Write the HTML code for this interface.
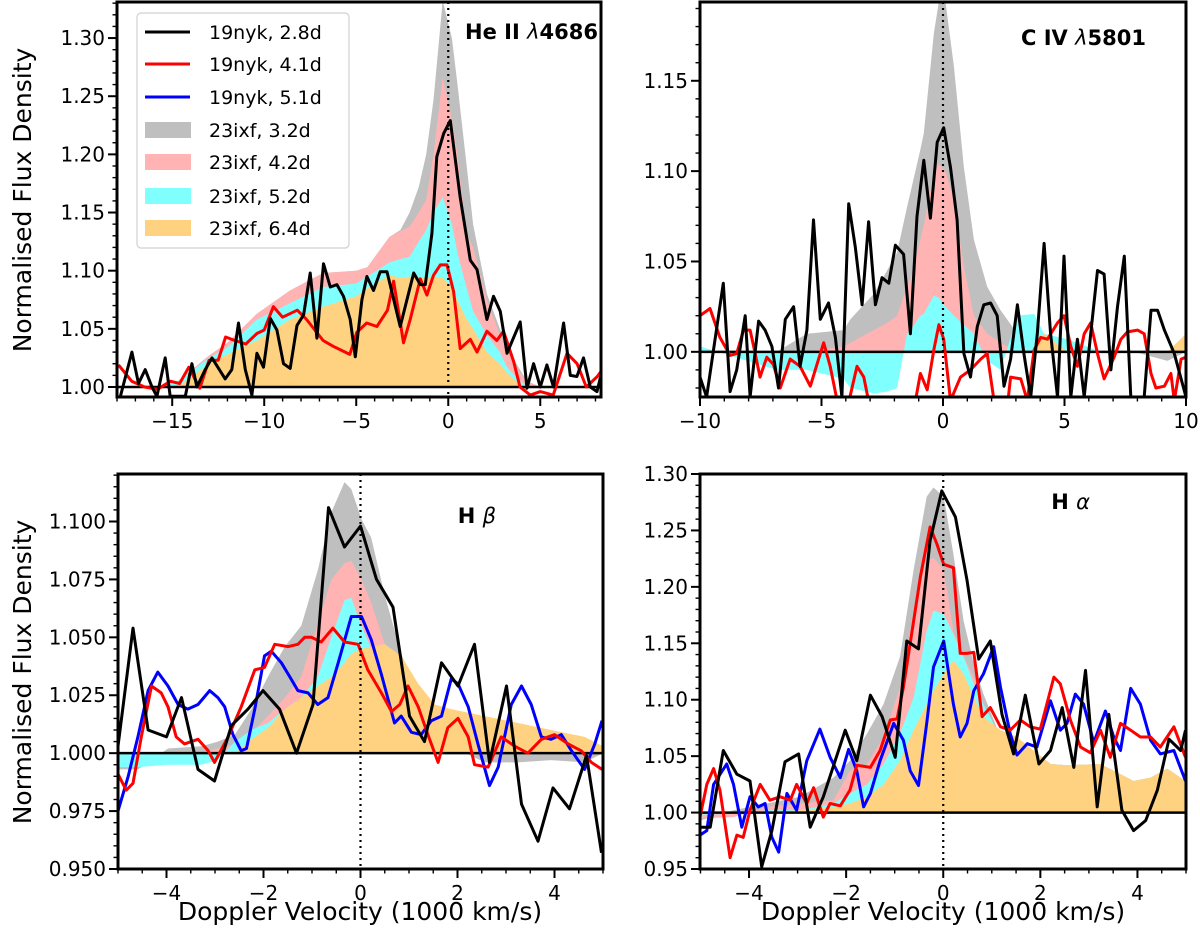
<!DOCTYPE html>
<html><head><meta charset="utf-8"><style>
body{margin:0;background:#fff}
svg{display:block;font-family:"DejaVu Sans","Liberation Sans",sans-serif}
</style></head><body>
<svg id="fig" width="1200" height="944" viewBox="0 0 1200 944" xmlns="http://www.w3.org/2000/svg"></svg>
<script>
// ===== Panel A: He II 4686 =====
const heV=[-18,-16,-14.7,-13,-12,-10.4,-8.6,-6.8,-5,-4.4,-3.2,-2.6,-2.1,-1.6,-1.2,-0.8,-0.3,0.2,0.5,1.0,1.35,2.1,2.8,3.2,3.6,4.0,4.3,5,8.3];
const heGray=[1,1,1.005,1.027,1.038,1.063,1.083,1.098,1.1,1.103,1.129,1.135,1.15,1.172,1.2,1.247,1.332,1.3,1.26,1.19,1.14,1.08,1.05,1.035,1.023,1.012,1.005,1,1];
const hePink=[1,1,1.005,1.027,1.038,1.063,1.083,1.098,1.1,1.103,1.129,1.134,1.138,1.15,1.161,1.2,1.266,1.23,1.2,1.132,1.12,1.075,1.045,1.032,1.02,1.01,1.005,1,1];
const heCyan=[1,1,1.005,1.025,1.034,1.058,1.072,1.086,1.089,1.095,1.107,1.11,1.112,1.125,1.135,1.15,1.163,1.14,1.115,1.085,1.065,1.045,1.03,1.017,1.01,1.004,1.0,1,1];
const heOrange=[1,1,1.0,1.02,1.028,1.04,1.058,1.069,1.078,1.085,1.096,1.094,1.095,1.094,1.094,1.095,1.094,1.085,1.075,1.058,1.05,1.03,1.02,1.012,1.006,1.0,1.0,1,1];
const heBlackV=[-17.83,-17.19,-16.83,-16.47,-16.10,-15.83,-15.38,-15.11,-14.29,-13.93,-13.66,-13.21,-12.84,-12.12,-11.76,-11.40,-11.03,-10.67,-10.40,-10.04,-9.67,-9.31,-8.95,-8.59,-8.22,-7.86,-7.50,-7.14,-6.78,-6.41,-6.05,-5.69,-5.33,-5.05,-4.69,-4.42,-4.06,-3.70,-3.33,-2.61,-1.88,-1.52,-1.25,-0.89,-0.62,-0.25,0.11,0.65,1.20,1.56,2.10,2.46,2.83,3.19,3.91,4.28,4.64,5.00,5.36,5.72,6.27,6.63,6.99,7.35,7.72,8.08,8.37];
const heBlackF=[0.991,1.030,1.003,1.015,1.000,0.992,1.025,0.992,0.992,1.020,1.000,1.015,1.025,1.007,1.015,1.055,1.015,0.993,1.029,1.017,1.059,1.049,1.020,1.016,1.053,1.062,1.098,1.042,1.106,1.086,1.088,1.078,1.058,1.026,1.075,1.095,1.083,1.099,1.099,1.052,1.098,1.088,1.088,1.132,1.198,1.218,1.229,1.163,1.109,1.101,1.058,1.078,1.065,1.029,1.056,0.999,1.020,1.000,1.019,1.000,1.055,1.010,1.009,1.025,1.000,0.996,1.015];
const heRedV=[-17.92,-17.2,-16.5,-15.8,-15.1,-14.6,-14.1,-13.5,-13.0,-12.5,-12.1,-11.6,-11.0,-10.4,-10.0,-9.5,-9.0,-8.2,-7.7,-7.1,-6.8,-6.25,-5.35,-4.97,-4.43,-3.88,-3.3,-2.97,-2.6,-2.43,-2.07,-1.52,-1.16,-0.8,-0.43,-0.07,0.29,0.65,1.2,1.56,2.1,2.64,3.0,3.55,3.9,4.46,5.0,5.7,6.45,7.0,7.5,8.1,8.37];
const heRedF=[1.019,1.005,1.0,0.998,1.005,1.003,1.017,0.999,1.023,1.023,1.043,1.040,1.037,1.046,1.049,1.069,1.060,1.066,1.058,1.046,1.040,1.035,1.028,1.047,1.055,1.052,1.066,1.091,1.055,1.038,1.058,1.093,1.079,1.096,1.105,1.105,1.082,1.033,1.041,1.030,1.048,1.040,1.048,1.022,1.0,0.993,0.996,0.993,1.029,1.020,1.0,1.009,1.015];

// ===== Panel B: C IV 5801 =====
const civV=[-10,-6.84,-5.6,-4.09,-3.81,-2.85,-2.30,-1.89,-1.48,-1.34,-0.93,-0.79,-0.38,-0.17,0.10,0.45,0.86,1.27,1.82,2.37,3.06,3.75,4.16,5.12,6.49,7.87,9.24,10];
const civGray=[1,1,1.010,1.012,1.018,1.032,1.045,1.055,1.08,1.088,1.112,1.121,1.176,1.194,1.194,1.158,1.102,1.062,1.036,1.023,1.010,1.001,1,1,1,1,0.995,1];
const civPink=[1,1,1,1.003,1.005,1.012,1.016,1.02,1.036,1.04,1.062,1.07,1.099,1.104,1.10,1.084,1.047,1.020,1.010,1.005,1,1,1,1,1,1,1,1];
const civCyan=[1.003,0.99,0.99,0.985,0.98,0.977,0.978,0.98,1.01,1.012,1.02,1.021,1.031,1.03,1.025,1.02,1.015,1.01,0.995,0.99,1.02,1.021,1.01,1.007,1,1,1,1];
const civOrange=[1,1,1,1,1,1,1,1,1,1,1,1,1,1,1,1,1,1,1,1,1,1,1.01,1,1,1,1,1.01];
const civBlackV=[-10,-9.73,-9.04,-8.76,-8.49,-8.14,-7.94,-7.59,-7.32,-7.04,-6.77,-6.49,-6.15,-5.88,-5.60,-5.33,-5.05,-4.71,-4.43,-4.16,-3.88,-3.61,-3.33,-3.06,-2.78,-2.51,-2.23,-1.96,-1.62,-1.34,-1.07,-0.79,-0.52,-0.24,0.03,0.31,0.58,0.86,1.13,1.41,1.68,1.96,2.23,2.51,2.78,3.06,3.33,3.61,3.88,4.16,4.43,4.71,4.98,5.26,5.53,5.81,6.08,6.36,6.63,6.91,7.18,7.46,7.73,8.28,8.56,8.83,9.11,9.52,10.0];
const civBlackF=[0.986,0.975,1.038,0.978,0.990,1.020,0.975,1.017,1.012,1.003,0.980,1.018,1.025,0.992,1.012,1.073,1.018,1.027,1.008,0.975,1.082,1.058,1.026,1.072,1.026,1.041,1.038,1.059,1.054,1.010,1.075,1.106,1.074,1.116,1.124,1.102,1.073,0.999,0.986,1.014,1.026,1.027,1.020,0.981,0.996,1.026,0.999,0.975,1.010,1.060,1.010,0.975,1.053,0.975,1.007,0.975,1.010,1.045,1.043,0.990,1.025,1.053,0.975,0.975,1.023,1.023,1.012,0.999,0.975];
const civRedV=[-10,-9.59,-9.18,-8.76,-8.49,-8.21,-7.94,-7.73,-7.53,-7.25,-6.98,-6.70,-6.29,-5.88,-5.46,-5.12,-4.91,-4.64,-4.36,-3.95,-3.54,-3.26,-2.99,-1.20,-0.93,-0.65,-0.38,-0.17,0.03,0.31,0.72,1.13,1.55,1.82,2.10,2.65,2.78,3.20,3.47,3.75,4.02,4.30,4.71,4.98,5.26,5.53,5.81,6.08,6.36,6.63,7.04,7.32,7.59,8.01,8.28,8.56,8.76,9.11,9.38,9.52,9.80,10.0];
const civRedF=[1.020,1.024,1.008,0.998,0.999,1.012,1.012,0.999,0.986,0.997,0.993,0.980,0.996,0.992,0.981,0.996,1.005,0.992,0.973,0.968,0.992,0.986,0.968,0.968,0.988,0.979,1.001,1.015,1.007,0.973,0.986,0.990,0.996,0.999,0.973,0.970,0.986,0.985,0.973,1.001,1.008,1.007,1.016,1.020,1.003,0.992,1.010,1.016,0.999,0.985,0.997,1.007,1.011,1.012,1.010,0.988,0.980,0.981,0.988,0.973,0.996,0.997];

// ===== Panel C: H beta =====
const hbV=[-5.0,-4.59,-3.97,-3.28,-2.94,-2.59,-2.25,-1.91,-1.56,-1.22,-0.88,-0.60,-0.33,-0.19,0.02,0.22,0.50,0.84,1.19,1.53,1.87,2.56,3.25,3.93,4.62,5.0];
const hbGray=[0.993,0.993,1.002,1.003,1.005,1.008,1.019,1.033,1.046,1.055,1.079,1.104,1.117,1.114,1.101,1.093,1.068,1.043,1.024,1.014,1.003,0.996,0.996,0.997,0.996,1.0];
const hbPink=[1,1,1,1,1.002,1.004,1.009,1.016,1.024,1.033,1.056,1.075,1.082,1.083,1.075,1.065,1.047,1.036,1.021,1.010,1.003,1,1,1,1,1];
const hbCyan=[0.994,0.994,0.995,0.995,0.997,1.005,1.010,1.013,1.019,1.024,1.033,1.050,1.066,1.067,1.055,1.045,1.036,1.025,1.016,1.010,1.005,1,1,1,1,1];
const hbOrange=[1,1,1,1,1,1,1.006,1.011,1.019,1.024,1.029,1.033,1.039,1.043,1.045,1.046,1.047,1.042,1.030,1.021,1.019,1.016,1.013,1.010,1.007,1.003];
const hbBlackV=[-5.00,-4.69,-4.38,-4.00,-3.69,-3.35,-3.01,-2.66,-2.32,-2.01,-1.67,-1.32,-0.98,-0.66,-0.33,0.00,0.33,0.67,1.01,1.32,1.67,2.01,2.35,2.66,3.01,3.32,3.66,3.97,4.31,4.66,4.97];
const hbBlackF=[1.003,1.054,1.010,1.007,1.024,0.993,0.988,1.012,1.019,1.027,1.019,1.000,1.021,1.106,1.089,1.098,1.075,1.063,1.016,1.005,1.039,1.029,1.047,0.996,1.029,0.978,0.962,0.985,0.976,0.999,0.957];
const hbRedV=[-5.00,-4.83,-4.69,-4.52,-4.31,-4.11,-3.97,-3.80,-3.63,-3.35,-3.14,-3.01,-2.73,-2.46,-2.18,-1.98,-1.77,-1.49,-1.29,-1.15,-1.01,-0.81,-0.57,-0.33,-0.05,0.15,0.43,0.64,0.81,0.98,1.19,1.39,1.60,1.80,2.01,2.22,2.35,2.63,2.90,3.18,3.45,3.73,4.00,4.28,4.55,4.76,4.98];
const hbRedF=[0.991,0.984,0.987,1.007,1.029,1.026,1.020,1.007,1.004,1.006,1.001,0.996,1.007,1.020,1.036,1.037,1.047,1.046,1.047,1.050,1.050,1.048,1.054,1.048,1.047,1.036,1.026,1.018,1.021,1.029,1.020,1.008,0.996,1.011,1.015,1.007,0.995,0.994,1.007,1.003,1.000,1.006,1.008,1.004,1.001,0.996,0.993];
const hbBlueV=[-5.00,-4.79,-4.59,-4.38,-4.18,-3.97,-3.76,-3.56,-3.35,-3.11,-2.94,-2.80,-2.63,-2.46,-2.35,-2.18,-1.98,-1.84,-1.63,-1.43,-1.29,-1.08,-0.88,-0.67,-0.46,-0.19,0.02,0.22,0.43,0.70,0.84,1.05,1.25,1.46,1.67,1.87,2.01,2.22,2.42,2.66,2.84,3.11,3.32,3.52,3.73,3.93,4.14,4.35,4.62,4.83,4.98];
const hbBlueF=[0.975,0.990,1.007,1.027,1.035,1.029,1.021,1.019,1.021,1.027,1.024,1.020,1.008,1.001,1.002,1.019,1.042,1.044,1.039,1.032,1.027,1.026,1.021,1.024,1.039,1.059,1.059,1.049,1.034,1.013,1.016,1.009,1.008,1.014,1.016,1.032,1.030,1.020,1.004,0.986,0.994,1.021,1.029,1.021,1.007,1.006,1.008,1.001,0.993,1.004,1.014];

// ===== Panel D: H alpha =====
const haV=[-5.01,-4.32,-3.64,-2.95,-2.26,-1.92,-1.57,-1.23,-0.89,-0.61,-0.34,-0.20,0.01,0.21,0.42,0.63,0.83,1.18,1.52,1.86,2.21,2.55,3.24,3.92,4.27,4.61,4.99];
const haGray=[0.993,1.002,1.008,1.014,1.031,1.046,1.070,1.096,1.138,1.215,1.280,1.288,1.280,1.229,1.170,1.132,1.105,1.067,1.060,1.055,1.043,1.042,1.043,1.028,1.031,1.039,1.028];
const haPink=[0.995,0.996,1.005,1.008,1.011,1.037,1.043,1.067,1.111,1.179,1.223,1.226,1.215,1.161,1.138,1.120,1.096,1.067,1.060,1.055,1.043,1.042,1.043,1.028,1.031,1.039,1.028];
const haCyan=[0.998,0.999,1.002,1.002,1.008,1.017,1.025,1.043,1.070,1.102,1.161,1.179,1.176,1.158,1.138,1.114,1.096,1.067,1.060,1.055,1.043,1.042,1.043,1.028,1.031,1.039,1.028];
const haOrange=[1,1,1,1.002,1.005,1.008,1.014,1.025,1.046,1.073,1.096,1.108,1.123,1.135,1.123,1.102,1.085,1.073,1.067,1.055,1.043,1.042,1.043,1.028,1.031,1.039,1.028];
const haBlackV=[-5.01,-4.80,-4.53,-4.25,-3.98,-3.74,-3.53,-3.26,-2.98,-2.74,-2.47,-2.02,-1.78,-1.50,-1.26,-0.99,-0.75,-0.51,-0.27,-0.03,0.25,0.49,0.73,0.97,1.21,1.45,1.69,1.97,2.21,2.45,2.69,2.93,3.17,3.41,3.68,3.92,4.17,4.41,4.65,4.89,4.99];
const haBlackF=[0.987,0.987,1.055,1.034,1.028,0.952,0.984,1.045,1.052,0.987,1.014,1.073,1.046,1.104,1.085,1.049,1.152,1.145,1.241,1.285,1.262,1.206,1.136,1.152,1.087,1.052,1.104,1.043,1.055,1.093,1.040,1.126,1.005,1.087,1.002,0.984,0.993,1.020,1.065,1.055,1.073];
const haRedV=[-5.01,-4.87,-4.73,-4.60,-4.39,-4.25,-4.12,-3.98,-3.77,-3.57,-3.36,-3.15,-3.02,-2.81,-2.67,-2.47,-2.33,-2.12,-1.92,-1.78,-1.50,-1.30,-1.09,-0.95,-0.82,-0.68,-0.47,-0.27,-0.13,0.01,0.21,0.35,0.49,0.63,0.80,0.97,1.18,1.38,1.59,1.79,2.00,2.28,2.41,2.62,2.83,3.03,3.24,3.44,3.65,3.86,4.06,4.27,4.47,4.75,4.99];
const haRedF=[0.996,1.025,1.039,1.020,0.960,0.980,0.978,1.002,1.025,1.011,1.014,1.011,1.025,1.008,1.022,0.996,1.008,1.006,1.020,1.042,1.040,1.055,1.082,1.083,1.111,1.150,1.209,1.253,1.238,1.220,1.217,1.141,1.141,1.142,1.085,1.093,1.076,1.073,1.082,1.076,1.074,1.120,1.114,1.082,1.058,1.053,1.073,1.049,1.079,1.073,1.067,1.067,1.058,1.076,1.049];
const haBlueV=[-5.01,-4.87,-4.73,-4.46,-4.32,-4.15,-3.98,-3.81,-3.67,-3.53,-3.39,-3.22,-3.02,-2.81,-2.54,-2.33,-2.12,-1.95,-1.78,-1.64,-1.50,-1.30,-1.02,-0.82,-0.68,-0.51,-0.34,-0.20,0.01,0.21,0.35,0.49,0.63,0.83,1.04,1.18,1.38,1.52,1.73,1.93,2.21,2.41,2.55,2.72,2.89,3.10,3.34,3.51,3.65,3.86,4.06,4.27,4.47,4.75,4.99];
const haBlueF=[0.980,0.984,1.025,1.043,1.025,0.987,1.014,1.005,1.008,0.978,0.965,1.017,1.002,1.046,1.074,1.049,1.031,1.056,1.037,1.005,1.017,1.046,1.079,1.064,1.037,1.024,1.079,1.129,1.152,1.096,1.067,1.079,1.108,1.123,1.147,1.111,1.070,1.051,1.061,1.058,1.099,1.073,1.079,1.105,1.096,1.062,1.090,1.067,1.055,1.110,1.096,1.064,1.052,1.055,1.028];

// tick labels
const heXTicks=[-15,-10,-5,0,5], heYTicks=[1.00,1.05,1.10,1.15,1.20,1.25,1.30];
const civXTicks=[-10,-5,0,5,10], civYTicks=[1.00,1.05,1.10,1.15];
const hbXTicks=[-4,-2,0,2,4], hbYTicks=[0.950,0.975,1.000,1.025,1.050,1.075,1.100];
const haXTicks=[-4,-2,0,2,4], haYTicks=[0.95,1.00,1.05,1.10,1.15,1.20,1.25,1.30];
const legendLabels=["19nyk, 2.8d","19nyk, 4.1d","19nyk, 5.1d","23ixf, 3.2d","23ixf, 4.2d","23ixf, 5.2d","23ixf, 6.4d"];

const NS="http://www.w3.org/2000/svg";
const svg=document.getElementById('fig');
function mk(tag,attrs,parent){const e=document.createElementNS(NS,tag);for(const k in attrs)e.setAttribute(k,attrs[k]);(parent||svg).appendChild(e);return e;}
const COL={gray:'#bfbfbf',pink:'#ffb3b3',cyan:'#80ffff',orange:'#fed281',black:'#000',red:'#ff0000',blue:'#0000ff'};
function fmtNum(v,d){return (v<0?'\u2212':'')+Math.abs(v).toFixed(d);}

function panel(cfg){
  const g=mk('g',{});
  
  
  const sx=v=>cfg.x0+(v-cfg.xmin)/(cfg.xmax-cfg.xmin)*(cfg.x1-cfg.x0);
  const sy=f=>cfg.y1-(f-cfg.ymin)/(cfg.ymax-cfg.ymin)*(cfg.y1-cfg.y0);
  const cid='clip-'+cfg.name;
  const cp=mk('clipPath',{id:cid},g);
  mk('rect',{x:cfg.x0,y:cfg.y0,width:cfg.x1-cfg.x0,height:cfg.y1-cfg.y0},cp);
  const plot=mk('g',{'clip-path':'url(#'+cid+')'},g);
  cfg.fills.forEach(fl=>{
    let d='M'+sx(fl.v[0])+','+sy(1);
    fl.v.forEach((v,i)=>{d+='L'+sx(v).toFixed(1)+','+sy(fl.f[i]).toFixed(1);});
    d+='L'+sx(fl.v[fl.v.length-1])+','+sy(1)+'Z';
    const p=mk('path',{d:d,fill:fl.c,stroke:'none'},plot);
    
    
  });
  const hl=mk('line',{x1:cfg.x0,x2:cfg.x1,y1:sy(1),y2:sy(1),stroke:'#000','stroke-width':2.5},plot);
  
  
  cfg.lines.forEach(ln=>{
    const pts=ln.v.map((v,i)=>sx(v).toFixed(1)+','+sy(ln.f[i]).toFixed(1)).join(' ');
    const p=mk('polyline',{points:pts,fill:'none',stroke:ln.c,'stroke-width':3,'stroke-linejoin':'round'},plot);
    
    
  });
  const zl=mk('line',{x1:sx(0),x2:sx(0),y1:cfg.y0,y2:cfg.y1,stroke:'#000','stroke-width':2.2,'stroke-dasharray':'2,4'},g);
  
  
  for(let v=Math.ceil(cfg.xmin/cfg.xminor)*cfg.xminor;v<=cfg.xmax+1e-9;v+=cfg.xminor){
    mk('line',{x1:sx(v),x2:sx(v),y1:cfg.y1,y2:cfg.y1+4.5,stroke:'#000','stroke-width':1.4},g);
  }
  for(let f=Math.ceil(cfg.ymin/cfg.yminor-1e-6)*cfg.yminor;f<=cfg.ymax+1e-9;f+=cfg.yminor){
    mk('line',{x1:cfg.x0-4.5,x2:cfg.x0,y1:sy(f),y2:sy(f),stroke:'#000','stroke-width':1.4},g);
  }
  cfg.xt.forEach(v=>{
    mk('line',{x1:sx(v),x2:sx(v),y1:cfg.y1,y2:cfg.y1+9,stroke:'#000','stroke-width':2},g);
    const t=mk('text',{x:sx(v),y:cfg.y1+31,'font-size':20,'text-anchor':'middle'},g);
    t.textContent=fmtNum(v,0);
    
    
  });
  cfg.yt.forEach(f=>{
    mk('line',{x1:cfg.x0-9,x2:cfg.x0,y1:sy(f),y2:sy(f),stroke:'#000','stroke-width':2},g);
    const t=mk('text',{x:cfg.x0-12,y:sy(f)+7,'font-size':20,'text-anchor':'end'},g);
    t.textContent=fmtNum(f,cfg.yd);
    
    
  });
  const fr=mk('rect',{x:cfg.x0,y:cfg.y0,width:cfg.x1-cfg.x0,height:cfg.y1-cfg.y0,fill:'none',stroke:'#000','stroke-width':3},g);
  
  
  const tt=mk('text',{x:cfg.tx,y:cfg.ty,'font-size':21,'font-weight':'bold','text-anchor':'end'},g);
  tt.innerHTML=cfg.title;
  
  
  return g;
}

panel({name:'panel-he-ii',x0:117,x1:601,y0:2,y1:397,xmin:-18.0,xmax:8.3,ymin:0.9914,ymax:1.331,xminor:1,yminor:0.01,yd:2,xt:heXTicks,yt:heYTicks,
  tx:598,ty:39,title:'He II <tspan font-style="italic" font-weight="normal">λ</tspan>4686',
  fills:[{name:'fill-23ixf-3.2d',v:heV,f:heGray,c:COL.gray},{name:'fill-23ixf-4.2d',v:heV,f:hePink,c:COL.pink},{name:'fill-23ixf-5.2d',v:heV,f:heCyan,c:COL.cyan},{name:'fill-23ixf-6.4d',v:heV,f:heOrange,c:COL.orange}],
  lines:[{name:'line-19nyk-4.1d',v:heRedV,f:heRedF,c:COL.red},{name:'line-19nyk-2.8d',v:heBlackV,f:heBlackF,c:COL.black}]});
panel({name:'panel-c-iv',x0:700,x1:1186,y0:2,y1:397,xmin:-10,xmax:10,ymin:0.975,ymax:1.1936,xminor:1,yminor:0.01,yd:2,xt:civXTicks,yt:civYTicks,
  tx:1146,ty:45,title:'C IV <tspan font-style="italic" font-weight="normal">λ</tspan>5801',
  fills:[{name:'fill-23ixf-3.2d',v:civV,f:civGray,c:COL.gray},{name:'fill-23ixf-4.2d',v:civV,f:civPink,c:COL.pink},{name:'fill-23ixf-5.2d',v:civV,f:civCyan,c:COL.cyan},{name:'fill-23ixf-6.4d',v:civV,f:civOrange,c:COL.orange}],
  lines:[{name:'line-19nyk-4.1d',v:civRedV,f:civRedF,c:COL.red},{name:'line-19nyk-2.8d',v:civBlackV,f:civBlackF,c:COL.black}]});
panel({name:'panel-h-beta',x0:118,x1:603,y0:474,y1:869,xmin:-5,xmax:5,ymin:0.95,ymax:1.1205,xminor:0.5,yminor:0.005,yd:3,xt:hbXTicks,yt:hbYTicks,
  tx:496,ty:523,title:'H <tspan font-style="italic" font-weight="normal">β</tspan>',
  fills:[{name:'fill-23ixf-3.2d',v:hbV,f:hbGray,c:COL.gray},{name:'fill-23ixf-4.2d',v:hbV,f:hbPink,c:COL.pink},{name:'fill-23ixf-5.2d',v:hbV,f:hbCyan,c:COL.cyan},{name:'fill-23ixf-6.4d',v:hbV,f:hbOrange,c:COL.orange}],
  lines:[{name:'line-19nyk-5.1d',v:hbBlueV,f:hbBlueF,c:COL.blue},{name:'line-19nyk-4.1d',v:hbRedV,f:hbRedF,c:COL.red},{name:'line-19nyk-2.8d',v:hbBlackV,f:hbBlackF,c:COL.black}]});
panel({name:'panel-h-alpha',x0:700,x1:1186,y0:474,y1:869,xmin:-5.01,xmax:5,ymin:0.95,ymax:1.30,xminor:0.5,yminor:0.01,yd:2,xt:haXTicks,yt:haYTicks,
  tx:1090,ty:509,title:'H <tspan font-style="italic" font-weight="normal">α</tspan>',
  fills:[{name:'fill-23ixf-3.2d',v:haV,f:haGray,c:COL.gray},{name:'fill-23ixf-4.2d',v:haV,f:haPink,c:COL.pink},{name:'fill-23ixf-5.2d',v:haV,f:haCyan,c:COL.cyan},{name:'fill-23ixf-6.4d',v:haV,f:haOrange,c:COL.orange}],
  lines:[{name:'line-19nyk-5.1d',v:haBlueV,f:haBlueF,c:COL.blue},{name:'line-19nyk-4.1d',v:haRedV,f:haRedF,c:COL.red},{name:'line-19nyk-2.8d',v:haBlackV,f:haBlackF,c:COL.black}]});

[[200,'y-axis-title-top'],[672,'y-axis-title-bottom']].forEach(([cy,n])=>{
  const t=mk('text',{x:0,y:0,'font-size':25,'text-anchor':'middle',transform:'translate(31,'+cy+') rotate(-90)'});
  t.textContent='Normalised Flux Density';
  
  
});
[[360,'x-axis-title-left'],[943,'x-axis-title-right']].forEach(([cx,n])=>{
  const t=mk('text',{x:cx,y:920,'font-size':25,'text-anchor':'middle'});
  t.textContent='Doppler Velocity (1000 km/s)';
  
  
});

const lg=mk('g',{});


mk('rect',{x:137,y:13,width:212,height:235,rx:4,fill:'#fff','fill-opacity':0.85,stroke:'#d0d0d0','stroke-width':1.2},lg);
const legCols=[COL.black,COL.red,COL.blue,COL.gray,COL.pink,COL.cyan,COL.orange];
const legY=[32,64,97,130,162,196,228];
legendLabels.forEach((lab,i)=>{
  const e=mk('g',{},lg);
  
  
  if(i<3) mk('line',{x1:145,x2:190,y1:legY[i],y2:legY[i],stroke:legCols[i],'stroke-width':3},e);
  else mk('rect',{x:145,y:legY[i]-8,width:46,height:16,fill:legCols[i]},e);
  const t=mk('text',{x:209,y:legY[i]+7,'font-size':19},e);
  t.textContent=lab;
});
</script>
</body></html>
